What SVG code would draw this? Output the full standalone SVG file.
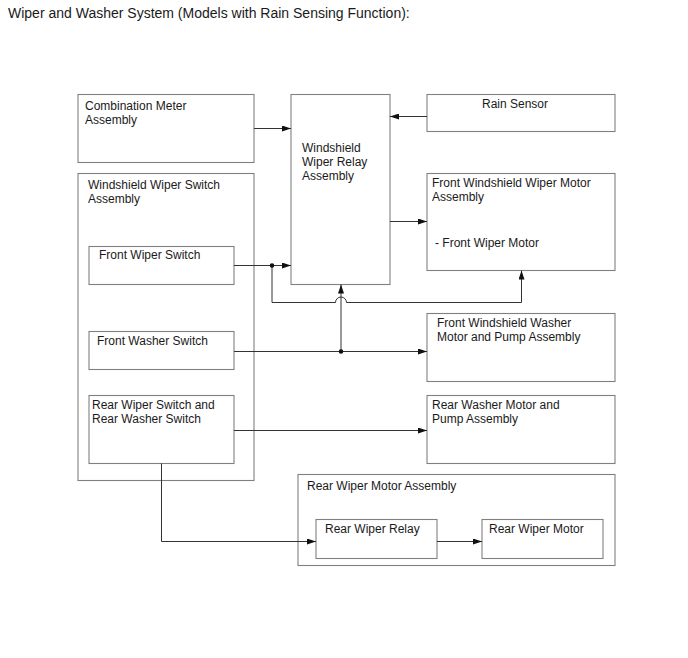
<svg xmlns="http://www.w3.org/2000/svg" width="688" height="658" viewBox="0 0 688 658">
<defs>
<marker id="arr" markerWidth="9" markerHeight="6" refX="9" refY="3" orient="auto" markerUnits="userSpaceOnUse">
<path d="M0,0 L9,3 L0,6 z" fill="#111"/>
</marker>
<style>
.box{fill:#fff;stroke:#808080;stroke-width:1.1}
.t{font-family:"Liberation Sans",Arial,sans-serif;font-size:12px;fill:#1a1a1a}
.title{font-family:"Liberation Sans",Arial,sans-serif;font-size:14px;fill:#1a1a1a}
.ln{fill:none;stroke:#333;stroke-width:1}
.dot{fill:#111}
</style>
</defs>
<rect width="688" height="658" fill="#fff"/>
<text class="title" x="8" y="18">Wiper and Washer System (Models with Rain Sensing Function):</text>

<g id="combination-meter">
<rect class="box" x="78" y="94.5" width="176" height="68"/>
<text class="t" x="85" y="110">Combination Meter</text>
<text class="t" x="85" y="124">Assembly</text>
</g>
<g id="wiper-relay">
<rect class="box" x="291" y="94.5" width="99" height="190"/>
<text class="t" x="302" y="152">Windshield</text>
<text class="t" x="302" y="166">Wiper Relay</text>
<text class="t" x="302" y="180">Assembly</text>
</g>
<g id="rain-sensor">
<rect class="box" x="427" y="94.5" width="188" height="37"/>
<text class="t" x="482" y="108">Rain Sensor</text>
</g>
<g id="front-wiper-motor">
<rect class="box" x="427" y="173.5" width="188" height="97"/>
<text class="t" x="432" y="187">Front Windshield Wiper Motor</text>
<text class="t" x="432" y="201">Assembly</text>
<text class="t" x="435" y="247">- Front Wiper Motor</text>
</g>
<g id="wiper-switch-assembly">
<rect class="box" x="78" y="173.5" width="176" height="307"/>
<text class="t" x="88" y="189">Windshield Wiper Switch</text>
<text class="t" x="88" y="203">Assembly</text>
</g>
<g id="front-wiper-switch">
<rect class="box" x="89" y="246.5" width="145" height="38"/>
<text class="t" x="99" y="259">Front Wiper Switch</text>
</g>
<g id="front-washer-switch">
<rect class="box" x="89" y="331.5" width="145" height="38"/>
<text class="t" x="97" y="345">Front Washer Switch</text>
</g>
<g id="rear-switch">
<rect class="box" x="89" y="395.5" width="145" height="68"/>
<text class="t" x="92" y="409">Rear Wiper Switch and</text>
<text class="t" x="92" y="423">Rear Washer Switch</text>
</g>
<g id="front-washer-motor">
<rect class="box" x="427" y="313.5" width="188" height="68"/>
<text class="t" x="437" y="327">Front Windshield Washer</text>
<text class="t" x="437" y="341">Motor and Pump Assembly</text>
</g>
<g id="rear-washer-motor">
<rect class="box" x="427" y="395.5" width="188" height="68"/>
<text class="t" x="432" y="409">Rear Washer Motor and</text>
<text class="t" x="432" y="423">Pump Assembly</text>
</g>
<g id="rear-wiper-motor-assembly">
<rect class="box" x="298" y="474.5" width="317" height="91"/>
<text class="t" x="307" y="490">Rear Wiper Motor Assembly</text>
</g>
<g id="rear-wiper-relay">
<rect class="box" x="316" y="519.5" width="121" height="39"/>
<text class="t" x="325" y="533">Rear Wiper Relay</text>
</g>
<g id="rear-wiper-motor">
<rect class="box" x="482" y="519.5" width="121" height="39"/>
<text class="t" x="489" y="533">Rear Wiper Motor</text>
</g>

<g id="connectors">
<path class="ln" d="M254,128.5 H291" marker-end="url(#arr)"/>
<path class="ln" d="M427,116.5 H390" marker-end="url(#arr)"/>
<path class="ln" d="M390,221.5 H427" marker-end="url(#arr)"/>
<path class="ln" d="M234,265.5 H291" marker-end="url(#arr)"/>
<path class="ln" d="M272,265.5 V302.5 H335.5 A5.5,5.5 0 0 1 346.5,302.5 H521.5 V270.5" marker-end="url(#arr)"/>
<path class="ln" d="M341,351.5 V284.5" marker-end="url(#arr)"/>
<path class="ln" d="M234,351.5 H427" marker-end="url(#arr)"/>
<path class="ln" d="M234,430.5 H427" marker-end="url(#arr)"/>
<path class="ln" d="M161.5,463.5 V541.5 H316" marker-end="url(#arr)"/>
<path class="ln" d="M437,541.5 H482" marker-end="url(#arr)"/>
<circle class="dot" cx="272" cy="265.5" r="2.3"/>
<circle class="dot" cx="341" cy="351.5" r="2.3"/>
</g>
</svg>
